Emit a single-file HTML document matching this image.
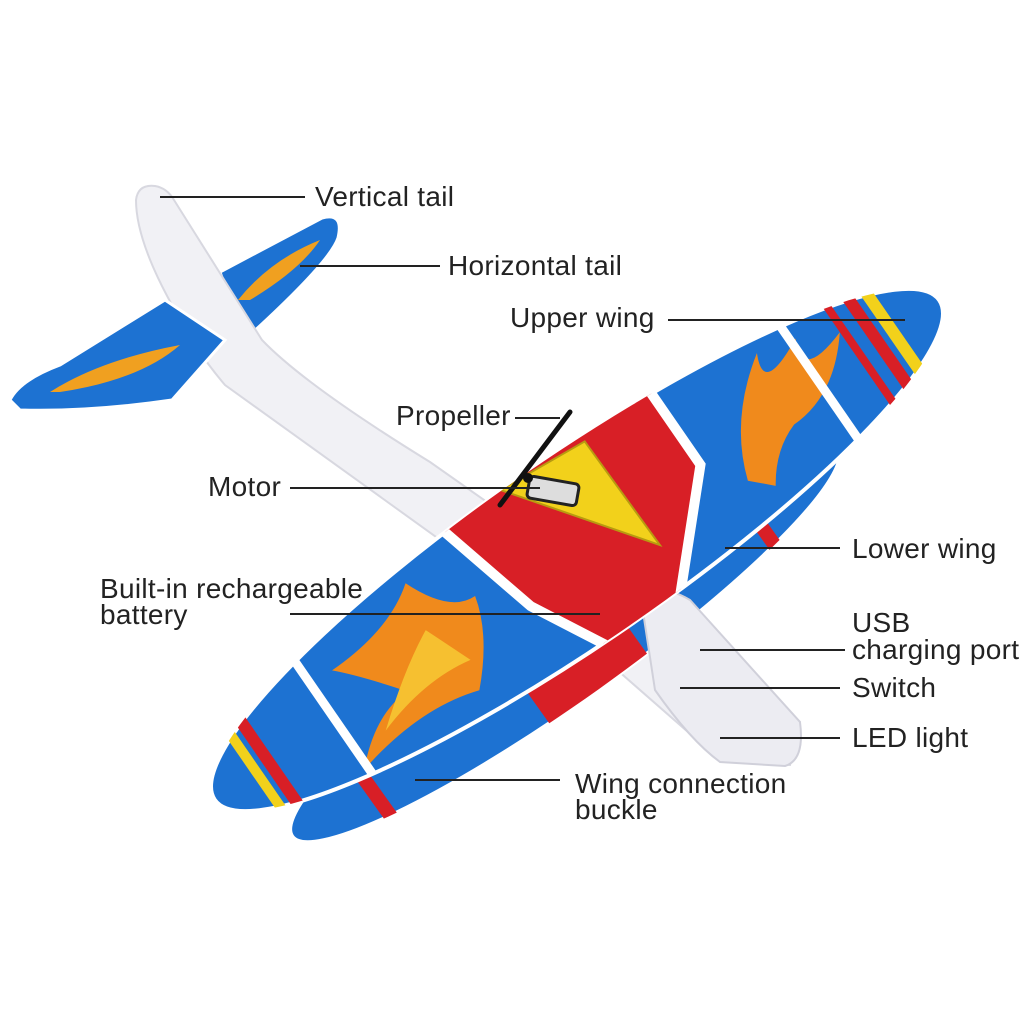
<!DOCTYPE html>
<html><head><meta charset="utf-8"><style>
html,body{margin:0;padding:0;background:#fff;}
svg{display:block}
text{font-family:"Liberation Sans",sans-serif;font-size:28px;letter-spacing:0.3px;fill:#222}
</style></head><body>
<svg width="1024" height="1024" viewBox="0 0 1024 1024" xmlns="http://www.w3.org/2000/svg">
<rect width="1024" height="1024" fill="#fff"/>
<defs>
<clipPath id="uw"><ellipse cx="0" cy="0" rx="440" ry="92"/></clipPath>
<clipPath id="lw"><ellipse cx="0" cy="0" rx="335" ry="58"/></clipPath>
</defs>
<!-- horizontal tail right -->
<path d="M220,272 L322,218 Q344,212 338,238 Q330,262 250,335 L240,330 Z" fill="#1d72d2" stroke="#fff" stroke-width="3"/>
<path d="M238,300 Q270,260 320,240 Q300,270 250,300 Z" fill="#f0a020"/>
<!-- fuselage -->
<path d="M136,200 Q138,184 155,186 Q167,188 174,200 L262,340 Q305,385 430,462 L800,722 L790,765 L720,760 L600,655 L225,385 Q195,350 172,305 Q136,240 136,200 Z" fill="#f1f1f5" stroke="#d8d8e0" stroke-width="2"/>
<!-- horizontal tail left -->
<path d="M10,400 Q20,380 60,365 L165,300 L225,340 L172,400 Q90,412 20,410 Z" fill="#1d72d2" stroke="#fff" stroke-width="3"/>
<path d="M50,392 Q100,360 180,345 Q140,380 60,392 Z" fill="#f0a020"/>
<!-- lower wing -->
<g transform="translate(565,642) rotate(-35.5)">
<ellipse cx="0" cy="0" rx="335" ry="58" fill="#1d72d2" stroke="#fff" stroke-width="4"/>
<g clip-path="url(#lw)">
<rect x="-60" y="-60" width="120" height="120" fill="#d81f26"/>
<rect x="220" y="-60" width="14" height="120" fill="#d81f26"/>
<rect x="-250" y="-60" width="14" height="120" fill="#d81f26"/>
</g>
</g>
<!-- nose block -->
<path d="M640,592 Q665,585 690,600 L800,722 Q805,760 785,766 L720,762 Q690,740 655,690 Z" fill="#ececf2" stroke="#d0d0da" stroke-width="2"/>
<!-- upper wing -->
<g transform="translate(577,550) rotate(-34.6)">
<ellipse cx="0" cy="0" rx="440" ry="92" fill="#1d72d2" stroke="#fff" stroke-width="4"/>
<g clip-path="url(#uw)">
<path d="M-100,-95 L150,-95 L150,0 L60,95 L-30,95 L-70,20 Z" fill="#d81f26"/>
<path d="M-29,-93 L68,-85 L71,43 Z" fill="#f2d11b" stroke="#b89a10" stroke-width="2"/>
<path d="M-100,-95 L-70,20 L-30,95" fill="none" stroke="#fff" stroke-width="10"/>
<path d="M150,-95 L150,0 L60,95" fill="none" stroke="#fff" stroke-width="10"/>
<path d="M180,40 Q200,-20 260,-60 Q240,-20 300,-50 Q280,-10 340,-30 Q300,20 250,20 Q220,30 200,60 Z" fill="#f08a1c"/>
<path d="M-160,60 Q-220,40 -300,60 Q-260,20 -220,20 Q-250,-20 -270,-40 Q-200,-40 -160,-70 Q-140,-20 -110,-20 Q-120,20 -160,60 Z" fill="#f08a1c"/>
<path d="M-150,30 Q-200,20 -260,40 Q-210,0 -170,-20 Z" fill="#f6c030"/>
<rect x="360" y="-100" width="12" height="200" fill="#d81f26"/>
<rect x="378" y="-100" width="12" height="200" fill="#f2d11b"/>
<rect x="340" y="-100" width="8" height="200" fill="#d81f26"/>
<rect x="-380" y="-100" width="12" height="200" fill="#d81f26"/>
<rect x="-395" y="-100" width="10" height="200" fill="#f2d11b"/>
<rect x="290" y="-100" width="9" height="200" fill="#fff"/>
<rect x="-300" y="-100" width="9" height="200" fill="#fff"/>
</g>
</g>
<!-- motor and propeller -->
<rect x="528" y="480" width="50" height="22" rx="4" fill="#ddd" stroke="#222" stroke-width="3" transform="rotate(10 553 491)"/>
<line x1="500" y1="505" x2="570" y2="412" stroke="#111" stroke-width="5" stroke-linecap="round"/>
<circle cx="528" cy="478" r="5" fill="#111"/>
<!-- labels & leaders -->
<g stroke="#222" stroke-width="2">
<line x1="160" y1="197" x2="305" y2="197"/>
<line x1="300" y1="266" x2="440" y2="266"/>
<line x1="668" y1="320" x2="905" y2="320"/>
<line x1="515" y1="418" x2="560" y2="418"/>
<line x1="290" y1="488" x2="540" y2="488"/>
<line x1="290" y1="614" x2="600" y2="614"/>
<line x1="725" y1="548" x2="840" y2="548"/>
<line x1="700" y1="650" x2="845" y2="650"/>
<line x1="680" y1="688" x2="840" y2="688"/>
<line x1="720" y1="738" x2="840" y2="738"/>
<line x1="415" y1="780" x2="560" y2="780"/>
</g>
<text x="315" y="206">Vertical tail</text>
<text x="448" y="275">Horizontal tail</text>
<text x="510" y="327">Upper wing</text>
<text x="396" y="425">Propeller</text>
<text x="208" y="496">Motor</text>
<text x="100" y="598">Built-in rechargeable</text>
<text x="100" y="624">battery</text>
<text x="852" y="558">Lower wing</text>
<text x="852" y="632">USB</text>
<text x="852" y="659">charging port</text>
<text x="852" y="697">Switch</text>
<text x="852" y="747">LED light</text>
<text x="575" y="793">Wing connection</text>
<text x="575" y="819">buckle</text>
</svg>
</body></html>
